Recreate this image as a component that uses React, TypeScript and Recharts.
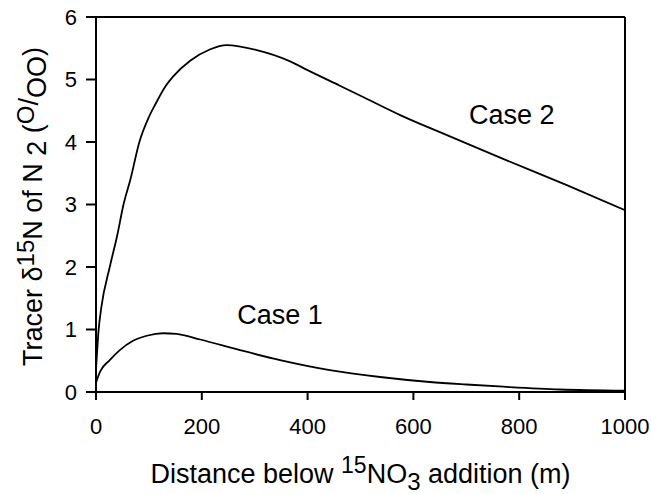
import { LineChart, Line, XAxis, YAxis, ReferenceLine, ReferenceDot } from "recharts";

// distance below the 15NO3 addition (m) and tracer δ15N of N2 (per mil)
const case2Dist = [0, 5, 10, 26, 40, 52, 65, 82, 100, 112, 132, 146, 178, 215, 247, 304, 367, 400, 461, 500, 575, 669, 764, 890, 1000];
const case2Val = [0.35, 1.0, 1.35, 2.0, 2.5, 3.0, 3.4, 4.0, 4.4, 4.6, 4.9, 5.05, 5.3, 5.48, 5.55, 5.47, 5.29, 5.15, 4.9, 4.74, 4.43, 4.09, 3.75, 3.31, 2.91];

const case1Dist = [0, 8, 26, 45, 70, 96, 127, 152, 197, 272, 348, 442, 537, 631, 700, 770, 877, 1000];
const case1Val = [0.15, 0.33, 0.51, 0.67, 0.82, 0.9, 0.94, 0.93, 0.84, 0.67, 0.51, 0.35, 0.24, 0.16, 0.12, 0.085, 0.04, 0.02];

const xTicks = [0, 200, 400, 600, 800, 1000];
const yTicks = [0, 1, 2, 3, 4, 5, 6];

const case1 = case1Dist.map((d, i) => ({ d, v: case1Val[i] }));
const case2 = case2Dist.map((d, i) => ({ d, v: case2Val[i] }));

const FONT = "'Liberation Sans', Arial, Helvetica, sans-serif";

// recharts nudges the last tick label inwards; draw it at the real coordinate
function XTick(props: any) {
  const { payload, y } = props;
  const x = payload && payload.coordinate != null ? payload.coordinate : props.x;
  return (
    <text x={x} y={y} dy="0.71em" textAnchor="middle" fontSize={22} fontFamily={FONT} fill="#000">
      {payload.value}
    </text>
  );
}

function XLabel(props: any) {
  const vb = props.viewBox || {};
  const cx = vb.x + vb.width / 2;
  return (
    <text x={cx} y={vb.y + 91} textAnchor="middle" fontSize={27} fontFamily={FONT} fill="#000">
      <tspan>Distance below </tspan>
      <tspan dy={-10} fontSize={23}>15</tspan>
      <tspan dy={10}>NO</tspan>
      <tspan dy={7} fontSize={24}>3</tspan>
      <tspan dy={-7}> addition (m)</tspan>
    </text>
  );
}

function YLabel(props: any) {
  const vb = props.viewBox || {};
  const x = vb.x + 42;
  const y = vb.y + vb.height / 2 + 2;
  return (
    <text
      x={x}
      y={y}
      textAnchor="middle"
      fontSize={27}
      fontFamily={FONT}
      fill="#000"
      transform={`rotate(-90, ${x}, ${y})`}
    >
      <tspan>Tracer  δ</tspan>
      <tspan dy={-8} fontSize={24}>15</tspan>
      <tspan dy={8}>N of N </tspan>
      <tspan dy={4}>2</tspan>
      <tspan dy={-4}> (</tspan>
      <tspan dy={-8} fontSize={24}>O</tspan>
      <tspan dy={4}>/</tspan>
      <tspan dy={8}>OO</tspan>
      <tspan dy={-4}>)</tspan>
    </text>
  );
}

export default function App() {
  return (
    <div style={{ position: "absolute", left: 0, top: 0, background: "#fff" }}>
      <LineChart width={651} height={494} margin={{ top: 17, right: 26, bottom: 0, left: 0 }}>
        <XAxis
          dataKey="d"
          type="number"
          domain={[0, 1000]}
          ticks={xTicks}
          interval={0}
          allowDataOverflow
          height={102}
          tickSize={8}
          tickMargin={18}
          tick={<XTick />}
          axisLine={{ stroke: "#000", strokeWidth: 2 }}
          tickLine={{ stroke: "#000", strokeWidth: 2 }}
          label={<XLabel />}
        />
        <YAxis
          dataKey="v"
          type="number"
          domain={[0, 6]}
          ticks={yTicks}
          interval={0}
          allowDataOverflow
          width={96}
          tickSize={10}
          tickMargin={9}
          tick={{ fill: "#000", fontSize: 22, fontFamily: FONT }}
          axisLine={{ stroke: "#000", strokeWidth: 2 }}
          tickLine={{ stroke: "#000", strokeWidth: 2 }}
          label={<YLabel />}
        />
        <ReferenceLine y={6} stroke="#000" strokeWidth={2} />
        <ReferenceLine x={1000} stroke="#000" strokeWidth={2} />
        <Line
          data={case2}
          dataKey="v"
          type="monotone"
          stroke="#000"
          strokeWidth={1.8}
          dot={false}
          isAnimationActive={false}
        />
        <Line
          data={case1}
          dataKey="v"
          type="monotone"
          stroke="#000"
          strokeWidth={1.8}
          dot={false}
          isAnimationActive={false}
        />
        <ReferenceDot
          x={786}
          y={4.44}
          r={0}
          fill="none"
          stroke="none"
          label={{ value: "Case 2", position: "center", fontSize: 27, fill: "#000", fontFamily: FONT }}
        />
        <ReferenceDot
          x={348}
          y={1.24}
          r={0}
          fill="none"
          stroke="none"
          label={{ value: "Case 1", position: "center", fontSize: 27, fill: "#000", fontFamily: FONT }}
        />
      </LineChart>
    </div>
  );
}
